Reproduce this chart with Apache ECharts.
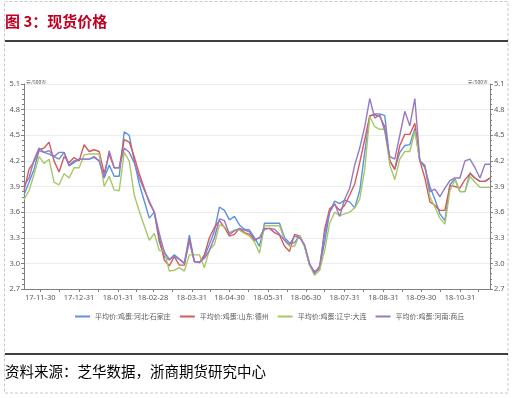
<!DOCTYPE html>
<html><head><meta charset="utf-8">
<script src="https://cdn.jsdelivr.net/npm/echarts@6/dist/echarts.min.js"></script>
<style>html,body{margin:0;padding:0;background:#fff}#c{width:512px;height:398px}</style>
</head><body><div id="c"></div>
<script>
// ---- data ----
const startDate = '2017-11-17';
const endDate = '2018-11-24';
const sampleStepDays = 4;
const seriesNames = ['平均价:鸡蛋:河北:石家庄', '平均价:鸡蛋:山东:德州', '平均价:鸡蛋:辽宁:大连', '平均价:鸡蛋:河南:商丘'];
const hebei = [3.80,3.95,4.10,4.32,4.30,4.28,4.25,4.22,4.30,4.14,4.18,4.22,4.22,4.22,4.24,4.20,4.00,4.15,4.02,4.02,
  4.54,4.50,4.20,3.93,3.73,3.53,3.60,3.25,3.08,3.04,3.10,3.05,3.00,3.33,3.02,3.01,3.08,3.22,3.38,3.66,
  3.62,3.51,3.55,3.45,3.40,3.39,3.30,3.20,3.47,3.47,3.47,3.47,3.30,3.24,3.24,3.33,3.20,2.98,2.90,2.95,
  3.25,3.60,3.73,3.70,3.74,3.72,3.65,3.85,4.30,4.72,4.75,4.75,4.73,4.20,4.10,4.30,4.38,4.39,4.58,4.20,
  4.12,3.90,3.75,3.58,3.50,3.92,3.99,3.84,3.84,4.06,4.00,3.96,3.96,4.00];
const shandong = [3.85,4.10,4.19,4.33,4.35,4.42,4.20,4.07,4.25,4.18,4.24,4.20,4.39,4.31,4.33,4.31,4.05,4.28,4.12,4.12,
  4.45,4.42,4.25,4.05,3.88,3.71,3.60,3.30,3.04,2.97,3.08,2.98,2.98,3.28,3.02,3.01,3.10,3.30,3.42,3.50,
  3.42,3.32,3.34,3.41,3.36,3.34,3.27,3.30,3.40,3.41,3.36,3.33,3.20,3.14,3.34,3.32,3.20,2.98,2.90,2.93,
  3.40,3.64,3.69,3.62,3.68,3.80,3.93,4.18,4.45,4.73,4.74,4.72,4.60,4.20,4.10,4.38,4.51,4.51,4.64,4.20,
  4.00,3.72,3.68,3.62,3.62,3.91,3.90,3.88,3.98,4.05,4.00,3.96,3.96,4.00];
const liaoning = [3.75,3.85,4.04,4.25,4.17,4.22,3.95,3.92,4.05,4.00,4.12,4.12,4.27,4.28,4.28,4.28,3.90,4.02,3.86,3.85,
  4.30,4.20,3.80,3.61,3.44,3.27,3.35,3.15,3.15,2.91,2.92,2.95,2.91,3.10,3.10,3.10,2.95,3.16,3.22,3.45,
  3.43,3.36,3.39,3.39,3.35,3.32,3.25,3.12,3.44,3.44,3.44,3.44,3.27,3.20,3.20,3.33,3.20,2.98,2.86,2.92,
  3.15,3.47,3.60,3.56,3.58,3.60,3.65,3.75,4.10,4.72,4.60,4.57,4.57,4.15,3.98,4.22,4.31,4.31,4.55,4.20,
  4.15,3.78,3.66,3.53,3.46,3.85,3.98,3.84,3.84,4.02,3.95,3.89,3.89,3.89];
const henan = [3.91,4.00,4.21,4.35,4.30,4.32,4.25,4.30,4.30,4.15,4.20,4.22,4.22,4.22,4.25,4.20,4.00,4.32,4.12,4.12,
  4.35,4.30,4.18,4.00,3.86,3.73,3.60,3.35,3.13,3.05,3.08,3.05,3.00,3.26,3.02,3.01,3.06,3.15,3.30,3.52,
  3.50,3.34,3.38,3.41,3.39,3.37,3.28,3.30,3.41,3.41,3.40,3.34,3.27,3.22,3.32,3.30,3.22,3.00,2.88,2.97,
  3.35,3.60,3.70,3.55,3.75,3.88,4.15,4.35,4.60,4.93,4.70,4.74,4.55,4.25,4.22,4.50,4.78,4.61,4.93,4.20,
  4.14,3.84,3.87,3.78,3.88,3.97,4.00,4.00,4.20,4.22,4.12,4.00,4.16,4.16];
const seriesColors = ['#5b93d8', '#d65a5a', '#a6c868', '#9678c4'];
const yMin = 2.7, yMax = 5.1, yStep = 0.3;
const unitText = '元/500克';
const titleText = '图 3：现货价格';
const sourceText = '资料来源：芝华数据，浙商期货研究中心';

// ---- build ----
const DAY = 86400000;
const iso = t => new Date(t).toISOString().slice(0, 10);
const days = [];
for (let t = Date.parse(startDate + 'T00:00:00Z'); t <= Date.parse(endDate + 'T00:00:00Z'); t += DAY) days.push(iso(t));
const isMonthEnd = s => new Date(Date.parse(s + 'T00:00:00Z') + DAY).getUTCDate() === 1;
const isMid = s => s.slice(8) === '15';
const toPairs = arr => arr.map((v, i) => [days[i * sampleStepDays], v]);
const allValues = [hebei, shandong, liaoning, henan];

const chart = echarts.init(document.getElementById('c'), null, {renderer: 'canvas'});
const axisLabelStyle = {color: '#595959', fontSize: 7.5, fontFamily: 'Noto Sans'};
const yAxisCommon = {
  type: 'value', min: yMin, max: yMax, interval: yStep,
  axisLine: {show: true, lineStyle: {color: '#808080', width: 1}},
  axisTick: {show: true, length: 3, lineStyle: {color: '#808080'}},
  minorTick: {show: true, splitNumber: 5, length: 2, lineStyle: {color: '#808080'}},
  splitLine: {show: true, lineStyle: {color: '#ececec', width: 1}},
  axisLabel: Object.assign({formatter: v => v.toFixed(1), margin: 4}, axisLabelStyle)
};
chart.setOption({
  animation: false,
  backgroundColor: '#fff',
  grid: {left: 24, right: 22, top: 84, bottom: 109, containLabel: false},
  legend: {
    left: 70, top: 308, itemWidth: 15, itemHeight: 2, itemGap: 9, icon: 'rect',
    textStyle: {color: '#595959', fontSize: 7, fontFamily: 'Noto Sans CJK SC'},
    data: seriesNames
  },
  xAxis: {
    type: 'category', data: days, boundaryGap: false,
    axisLine: {lineStyle: {color: '#808080', width: 1}},
    axisTick: {show: true, length: 3, interval: (i, v) => isMonthEnd(v) || isMid(v), lineStyle: {color: '#808080'}},
    axisLabel: Object.assign({interval: (i, v) => isMonthEnd(v), formatter: v => v.slice(2), margin: 5}, axisLabelStyle),
    splitLine: {show: false}
  },
  yAxis: [Object.assign({position: 'left'}, yAxisCommon), Object.assign({position: 'right'}, yAxisCommon, {splitLine: {show: false}})],
  series: seriesNames.map((n, i) => ({
    name: n, type: 'line', yAxisIndex: 0, showSymbol: false, symbol: 'none',
    data: toPairs(allValues[i]),
    lineStyle: {color: seriesColors[i], width: 1.4},
    itemStyle: {color: seriesColors[i]}
  })),
  graphic: [
    {type: 'rect', shape: {x: 4.5, y: 1.5, width: 503.5, height: 391.5}, style: {fill: 'none', stroke: '#c8c8c8', lineWidth: 1, lineDash: [3, 2]}, silent: true},
    {type: 'text', left: 5, top: 14, style: {text: titleText, fill: '#bf0022', font: 'bold 15px "Noto Sans CJK SC"'}},
    {type: 'line', shape: {x1: 5, y1: 41, x2: 508, y2: 41}, style: {stroke: '#000', lineWidth: 1.5}},
    {type: 'line', shape: {x1: 5, y1: 354, x2: 508, y2: 354}, style: {stroke: '#000', lineWidth: 1.5}},
    {type: 'text', left: 5, top: 364, style: {text: sourceText, fill: '#000', font: '14.5px "Noto Sans CJK SC"'}},
    {type: 'text', left: 26, top: 80, style: {text: unitText, fill: '#595959', font: '5px "Noto Sans CJK SC"'}},
    {type: 'text', right: 24, top: 80, style: {text: unitText, fill: '#595959', font: '5px "Noto Sans CJK SC"'}}
  ]
});
</script></body></html>
